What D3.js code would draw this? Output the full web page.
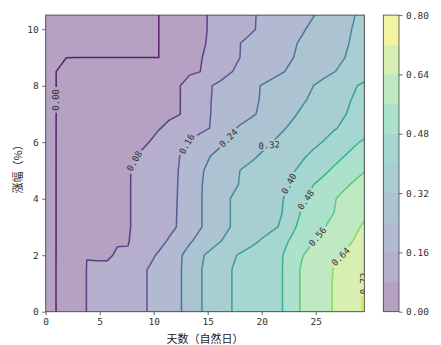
<!DOCTYPE html>
<html><head><meta charset="utf-8">
<script src="https://cdn.jsdelivr.net/npm/d3@7"></script>
<style>body{margin:0;background:#fff}</style>
</head><body>
<svg id="chart" width="441" height="345"></svg>
<script>
// grid columns (days) and rows (rise %)
const xValues = [0,0.95,1.9,2.85,3.81,4.76,5.71,6.66,7.61,8.56,9.52,10.47,11.42,12.37,13.32,14.27,15.23,16.18,17.13,18.08,19.03,19.98,20.94,21.89,22.84,23.79,24.74,25.69,26.64,27.6,28.55,29.5];
const yValues = [0,0.5,1,1.5,2,2.5,3,3.5,4,4.5,5,5.5,6,6.5,7,7.5,8,8.5,9,9.5,10,10.5];
// probability values, one row per yValue (bottom row first)
const zRows = [
[0,0,.027,.055,.081,.094,.108,.121,.134,.148,.162,.185,.209,.232,.270,.314,.344,.371,.398,.415,.431,.447,.462,.478,.530,.571,.595,.619,.643,.671,.698,.726],
[0,0,.027,.055,.081,.094,.108,.121,.134,.148,.162,.185,.209,.232,.270,.314,.344,.371,.398,.415,.431,.447,.462,.478,.530,.571,.595,.619,.643,.671,.698,.726],
[0,0,.027,.055,.081,.094,.108,.121,.134,.148,.162,.185,.209,.232,.270,.314,.344,.371,.398,.415,.431,.447,.462,.478,.530,.571,.595,.619,.643,.671,.698,.726],
[0,0,.027,.055,.081,.086,.088,.121,.134,.148,.162,.185,.209,.232,.270,.314,.344,.371,.398,.415,.431,.447,.462,.478,.530,.571,.595,.619,.641,.668,.695,.716],
[0,0,.015,.030,.0795,.076,.075,.0845,.0845,.127,.145,.167,.198,.230,.267,.308,.337,.362,.387,.409,.426,.443,.460,.477,.516,.558,.581,.602,.622,.644,.670,.690],
[0,0,.011,.022,.034,.045,.056,.077,.0775,.098,.120,.142,.166,.199,.232,.261,.289,.318,.340,.361,.383,.406,.434,.462,.491,.524,.557,.579,.600,.621,.643,.665],
[0,0,.011,.022,.032,.043,.054,.065,.076,.091,.109,.127,.145,.166,.200,.234,.264,.293,.321,.337,.354,.370,.386,.409,.468,.501,.528,.555,.579,.602,.626,.649],
[0,0,.011,.022,.032,.043,.054,.065,.076,.091,.109,.127,.145,.165,.200,.234,.264,.293,.321,.337,.353,.368,.384,.400,.450,.489,.513,.536,.559,.582,.605,.628],
[0,0,.011,.022,.032,.043,.054,.065,.076,.091,.109,.126,.144,.164,.199,.234,.264,.293,.321,.336,.351,.366,.381,.396,.429,.468,.499,.526,.553,.579,.606,.633],
[0,0,.011,.022,.032,.043,.054,.065,.076,.091,.108,.126,.144,.163,.198,.234,.259,.282,.305,.325,.341,.356,.372,.388,.407,.442,.478,.501,.524,.546,.569,.592],
[0,0,.011,.022,.032,.043,.054,.065,.076,.090,.108,.126,.143,.162,.196,.230,.256,.278,.301,.322,.336,.351,.365,.380,.394,.415,.440,.465,.490,.515,.535,.556],
[0,0,.010,.020,.030,.041,.051,.061,.071,.082,.101,.121,.140,.159,.186,.213,.240,.257,.275,.292,.310,.327,.343,.360,.377,.393,.413,.435,.457,.479,.501,.523],
[0,0,.009,.018,.026,.035,.044,.053,.061,.070,.079,.098,.120,.142,.163,.186,.208,.231,.250,.267,.284,.302,.319,.335,.352,.369,.385,.402,.424,.447,.469,.491],
[0,0,.008,.015,.023,.031,.039,.046,.054,.062,.069,.077,.091,.108,.126,.143,.161,.195,.228,.250,.266,.282,.298,.314,.330,.346,.362,.378,.394,.410,.426,.442],
[0,0,.006,.013,.019,.026,.032,.039,.045,.052,.058,.065,.071,.078,.099,.129,.159,.177,.195,.213,.231,.250,.271,.292,.312,.330,.347,.363,.379,.396,.412,.429],
[0,0,.006,.013,.019,.026,.032,.039,.045,.052,.058,.065,.071,.078,.098,.128,.158,.176,.193,.210,.227,.244,.261,.279,.296,.313,.331,.349,.368,.387,.405,.424],
[0,0,.006,.013,.019,.026,.032,.039,.045,.052,.058,.065,.071,.078,.098,.127,.156,.175,.192,.209,.226,.242,.258,.273,.288,.304,.319,.338,.357,.375,.394,.413],
[0,0,.006,.011,.017,.023,.029,.034,.040,.046,.051,.057,.063,.068,.074,.079,.105,.131,.157,.174,.189,.205,.220,.236,.252,.268,.284,.301,.317,.333,.350,.366],
[0,0,0,0,0,0,0,0,0,0,0,0,.019,.038,.056,.075,.096,.118,.140,.162,.177,.192,.207,.223,.238,.254,.270,.286,.302,.318,.334,.349],
[0,0,0,0,0,0,0,0,0,0,0,0,.017,.034,.051,.069,.088,.113,.138,.161,.176,.190,.204,.219,.233,.248,.264,.280,.296,.312,.328,.344],
[0,0,0,0,0,0,0,0,0,0,0,0,.017,.034,.051,.068,.085,.102,.119,.136,.153,.170,.186,.203,.219,.235,.252,.270,.288,.306,.324,.341],
[0,0,0,0,0,0,0,0,0,0,0,0,.017,.034,.051,.068,.085,.102,.119,.136,.153,.168,.182,.196,.210,.223,.237,.256,.277,.297,.318,.339]
];
const levels = [0,0.08,0.16,0.24,0.32,0.40,0.48,0.56,0.64,0.72,0.80];
const lineLevels = [0,0.08,0.16,0.24,0.32,0.40,0.48,0.56,0.64,0.72];
const xTicks = [0,5,10,15,20,25];
const yTicks = [0,2,4,6,8,10];
const cbarTicks = [0,0.16,0.32,0.48,0.64,0.80];
// contour label anchors: level, x, y, angle, snap-to-line
const labelSpots = [
  [0.00, 0.95, 7.5, -90, true],
  [0.08, 8.1, 5.35, -60, true],
  [0.16, 13.0, 5.95, -60, true],
  [0.24, 16.9, 6.15, -45, true],
  [0.32, 20.85, 5.83, -5, true],
  [0.40, 22.7, 4.5, -62, true],
  [0.48, 23.6, 4.05, -55, true],
  [0.56, 25.7, 2.5, -50, true],
  [0.64, 27.1, 2.0, -45, true],
  [0.72, 29.47, 1.0, -90, false]
];
const xTitle = "天数（自然日）";
const yTitle = "涨幅（%）";

const W = 441, H = 345;
const L = 45.7, R = 364.3, T = 15.1, B = 311.7;
const svg = d3.select('#chart');
const x = d3.scaleLinear().domain([0, 29.5]).range([L, R]);
const y = d3.scaleLinear().domain([0, 10.5]).range([B, T]);
const nx = xValues.length, ny = yValues.length;
const sx = (xValues[nx-1]-xValues[0])/(nx-1), sy = (yValues[ny-1]-yValues[0])/(ny-1);
const gx2d = g => xValues[0] + (g-0.5)*sx;
const gy2d = g => yValues[0] + (g-0.5)*sy;
const flat = zRows.flat();
const ALPHA = 0.4, LINE_ALPHA = 0.8;
const vmax = levels[levels.length-1];
function blend(c, a){ const k = d3.rgb(c); return d3.rgb(255-(255-k.r)*a, 255-(255-k.g)*a, 255-(255-k.b)*a).toString(); }
const bandColor = i => blend(d3.interpolateViridis(((levels[i]+levels[i+1])/2)/vmax), ALPHA);
const proj = d3.geoTransform({point(px, py){ this.stream.point(x(gx2d(px)), y(gy2d(py))); }});
const path = d3.geoPath(proj);
const numFont = "'DejaVu Sans Mono', monospace";
const cjkFont = "'Noto Sans CJK SC', sans-serif";

const defs = svg.append('defs');
defs.append('clipPath').attr('id','plotclip').append('rect')
  .attr('x',L).attr('y',T).attr('width',R-L).attr('height',B-T);
const mask = defs.append('mask').attr('id','lblmask').attr('maskUnits','userSpaceOnUse')
  .attr('x',0).attr('y',0).attr('width',W).attr('height',H);
mask.append('rect').attr('x',0).attr('y',0).attr('width',W).attr('height',H).attr('fill','#fff');

const plot = svg.append('g').attr('clip-path','url(#plotclip)');
plot.append('rect').attr('x',L).attr('y',T).attr('width',R-L).attr('height',B-T).attr('fill', bandColor(0));

const fillThr = levels.slice(1, -1);
const fills = d3.contours().size([nx, ny]).thresholds(fillThr)(flat);
plot.append('g').selectAll('path').data(fills).join('path')
  .attr('d', path)
  .attr('fill', (d,i) => bandColor(i+1))
  .attr('stroke', 'none');

const lineThr = lineLevels.map(v => v === 0 ? 1e-4 : v);
const lines = d3.contours().size([nx, ny]).thresholds(lineThr)(flat);

function ringsPx(geom){
  const out = [];
  geom.coordinates.forEach(poly => poly.forEach(ring => out.push(ring.map(([gx,gy]) => [x(gx2d(gx)), y(gy2d(gy))]))));
  return out;
}
function nearest(rings, p){
  let best = null;
  rings.forEach(ring => {
    for (let i = 0; i < ring.length-1; i++){
      const a = ring[i], b = ring[i+1];
      const dx = b[0]-a[0], dy = b[1]-a[1], l2 = dx*dx+dy*dy;
      let t = l2 ? ((p[0]-a[0])*dx + (p[1]-a[1])*dy)/l2 : 0;
      t = Math.max(0, Math.min(1, t));
      const q = [a[0]+t*dx, a[1]+t*dy];
      const d = (q[0]-p[0])**2 + (q[1]-p[1])**2;
      if (!best || d < best.d) best = {d, q};
    }
  });
  return best;
}

const labelG = svg.append('g').attr('clip-path','url(#plotclip)');
const fmt2 = d3.format('.2f');
labelSpots.forEach(([lev, lx, ly, ang, snap]) => {
  const idx = lineLevels.indexOf(lev);
  const anchor = [x(lx), y(ly)];
  let pos = anchor;
  if (snap) {
    const nb = nearest(ringsPx(lines[idx]), anchor);
    if (nb && nb.d < 400) pos = nb.q;
  }
  const t = labelG.append('text')
    .attr('transform', `translate(${pos[0]},${pos[1]}) rotate(${ang})`)
    .attr('text-anchor','middle').attr('dominant-baseline','central')
    .style('font-family', numFont).style('font-size','9px').attr('fill','#333')
    .text(fmt2(lev));
  const w = t.node().getComputedTextLength() + 4;
  mask.append('rect').attr('x', -w/2).attr('y', -5).attr('width', w).attr('height', 10)
    .attr('transform', `translate(${pos[0]},${pos[1]}) rotate(${ang})`).attr('fill','#000');
});

plot.append('g').attr('mask','url(#lblmask)').selectAll('path').data(lines).join('path')
  .attr('d', path)
  .attr('fill','none')
  .attr('stroke', (d,i) => d3.interpolateViridis(lineLevels[i]/vmax))
  .attr('stroke-opacity', LINE_ALPHA)
  .attr('stroke-width', 1.5)
  .attr('stroke-linejoin','round');
labelG.raise();

// frame
svg.append('rect').attr('x',L).attr('y',T).attr('width',R-L).attr('height',B-T)
  .attr('fill','none').attr('stroke','#444').attr('stroke-width',0.9);

function styleAxis(g){
  g.select('.domain').remove();
  g.selectAll('.tick line').attr('stroke','#444').attr('stroke-width',0.8);
  g.selectAll('.tick text').style('font-family', numFont).style('font-size','9.5px').attr('fill','#333');
}
svg.append('g').attr('transform',`translate(0,${B})`)
  .call(d3.axisBottom(x).tickValues(xTicks).tickSizeInner(3.5).tickSizeOuter(0).tickPadding(3.5).tickFormat(d3.format('d')))
  .call(styleAxis);
svg.append('g').attr('transform',`translate(${L},0)`)
  .call(d3.axisLeft(y).tickValues(yTicks).tickSizeInner(3.5).tickSizeOuter(0).tickPadding(3.5).tickFormat(d3.format('d')))
  .call(styleAxis);

// colorbar
const CL = 383.3, CR = 399;
const cb = d3.scaleLinear().domain([0, vmax]).range([B, T]);
const cbar = svg.append('g');
cbar.selectAll('rect').data(d3.range(levels.length-1)).join('rect')
  .attr('x', CL).attr('width', CR-CL)
  .attr('y', i => cb(levels[i+1])).attr('height', i => cb(levels[i]) - cb(levels[i+1]))
  .attr('fill', i => bandColor(i)).attr('shape-rendering','crispEdges');
svg.append('rect').attr('x',CL).attr('y',T).attr('width',CR-CL).attr('height',B-T)
  .attr('fill','none').attr('stroke','#444').attr('stroke-width',0.8);
svg.append('g').attr('transform',`translate(${CR},0)`)
  .call(d3.axisRight(cb).tickValues(cbarTicks).tickSizeInner(3.5).tickSizeOuter(0).tickPadding(3.5).tickFormat(fmt2))
  .call(styleAxis);

// titles
svg.append('text').attr('x',(L+R)/2).attr('y',343).attr('text-anchor','middle')
  .style('font-family', cjkFont).style('font-size','11px').attr('fill','#222').text(xTitle);
svg.append('text').attr('transform',`translate(17,${(T+B)/2 + 3}) rotate(-90)`)
  .attr('text-anchor','middle').attr('dominant-baseline','central')
  .style('font-family', cjkFont).style('font-size','11px').attr('fill','#222').text(yTitle);
</script>
</body></html>
